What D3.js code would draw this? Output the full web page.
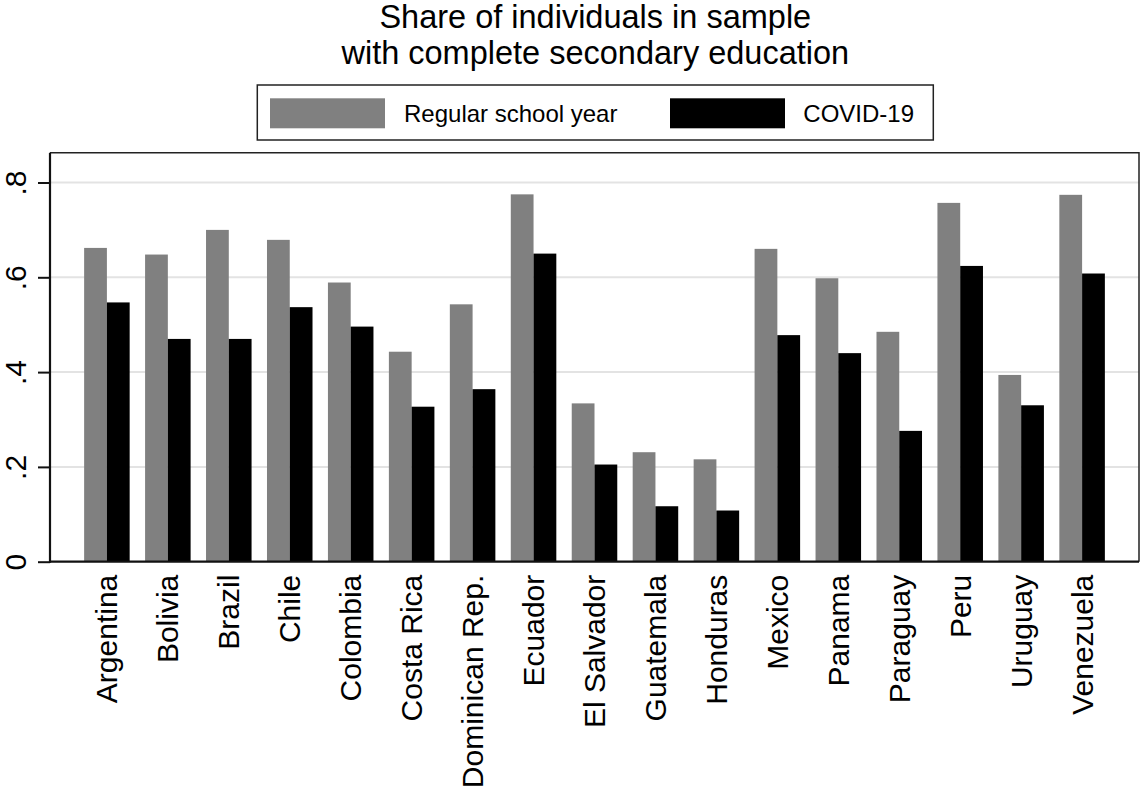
<!DOCTYPE html>
<html>
<head>
<meta charset="utf-8">
<script src="https://cdn.jsdelivr.net/npm/d3@7"></script>
<style>
  html, body { margin: 0; padding: 0; background: #fff; }
  svg { display: block; font-family: "Liberation Sans", Arial, sans-serif; }
</style>
</head>
<body>
<svg id="chart" width="1141" height="796"></svg>
<script>
const countries = ["Argentina","Bolivia","Brazil","Chile","Colombia","Costa Rica","Dominican Rep.","Ecuador","El Salvador","Guatemala","Honduras","Mexico","Panama","Paraguay","Peru","Uruguay","Venezuela"];
const regular = [0.662,0.648,0.700,0.679,0.589,0.443,0.543,0.775,0.334,0.231,0.216,0.660,0.598,0.485,0.757,0.394,0.774];
const covid   = [0.547,0.470,0.470,0.537,0.496,0.327,0.364,0.650,0.205,0.117,0.108,0.478,0.440,0.276,0.624,0.330,0.608];
const seriesNames = ["Regular school year","COVID-19"];
const seriesColors = ["#808080","#000000"];
const yTicks = [0, 0.2, 0.4, 0.6, 0.8];
const yTickLabels = ["0", ".2", ".4", ".6", ".8"];
const titleLines = ["Share of individuals in sample", "with complete secondary education"];

const svg = d3.select("#chart");
const plot = {left: 50, right: 1139, top: 152.7, bottom: 561.7};

const x = d3.scaleBand().domain(countries).range([plot.left, plot.right])
  .paddingInner(0.253).paddingOuter(0.56);
const xs = d3.scaleBand().domain([0,1]).range([0, x.bandwidth()]).padding(0);
const y = d3.scaleLinear().domain([0, 0.8]).range([plot.bottom, 182.5]);

// title
svg.append("g").selectAll("text").data(titleLines).join("text")
  .attr("x", 595.3).attr("y", (d,i) => 27.5 + i*36.5)
  .attr("text-anchor", "middle").attr("font-size", 32.5).attr("fill", "#000")
  .text(d => d);

// legend
const lg = svg.append("g");
lg.append("rect").attr("x", 257.3).attr("y", 85).attr("width", 676).attr("height", 55)
  .attr("fill", "#fff").attr("stroke", "#222").attr("stroke-width", 1.5);
const legendItems = [
  {sx: 270, tx: 404},
  {sx: 670, tx: 803.3}
];
seriesNames.forEach((name, i) => {
  lg.append("rect").attr("x", legendItems[i].sx).attr("y", 98.3).attr("width", 115).attr("height", 30)
    .attr("fill", seriesColors[i]);
  lg.append("text").attr("x", legendItems[i].tx).attr("y", 121.5)
    .attr("font-size", 24).attr("fill", "#000").text(name);
});

// gridlines
svg.append("g").selectAll("line").data(yTicks.filter(d => d > 0)).join("line")
  .attr("x1", plot.left).attr("x2", plot.right)
  .attr("y1", d => y(d)).attr("y2", d => y(d))
  .attr("stroke", "#e3e3e3").attr("stroke-width", 2);

// bars
const groups = svg.append("g").selectAll("g").data(countries).join("g")
  .attr("transform", d => `translate(${x(d)},0)`);
groups.selectAll("rect").data((d, i) => [regular[i], covid[i]]).join("rect")
  .attr("x", (d, j) => xs(j)).attr("width", xs.bandwidth())
  .attr("y", d => y(d)).attr("height", d => y(0) - y(d))
  .attr("fill", (d, j) => seriesColors[j]);

// frame top/right
svg.append("path")
  .attr("d", `M${plot.left},${plot.top}H${plot.right}V${plot.bottom}`)
  .attr("fill", "none").attr("stroke", "#222").attr("stroke-width", 1.5);

// y axis
const yAxis = svg.append("g").attr("transform", `translate(${plot.left},0)`)
  .call(d3.axisLeft(y).tickValues(yTicks).tickSize(12).tickSizeOuter(0).tickFormat((d,i) => yTickLabels[i]));
yAxis.select(".domain").remove();
yAxis.append("line").attr("x1", 0).attr("x2", 0).attr("y1", plot.top).attr("y2", plot.bottom + 1)
  .attr("stroke", "#111").attr("stroke-width", 2.2);
yAxis.selectAll(".tick line").attr("stroke", "#111").attr("stroke-width", 2);
yAxis.selectAll(".tick text")
  .attr("font-size", 30).attr("fill", "#000").attr("font-family", "Liberation Sans, Arial, sans-serif")
  .attr("text-anchor", "middle").attr("dy", 0).attr("x", null)
  .attr("transform", "translate(-24,0) rotate(-90)");

// x axis
const xAxis = svg.append("g").attr("transform", `translate(0,${plot.bottom})`)
  .call(d3.axisBottom(x).tickSize(0).tickSizeOuter(0));
xAxis.select(".domain").remove();
xAxis.append("line").attr("x1", plot.left - 1).attr("x2", plot.right)
  .attr("stroke", "#111").attr("stroke-width", 2.2);
xAxis.selectAll(".tick text")
  .attr("font-size", 30).attr("fill", "#000").attr("font-family", "Liberation Sans, Arial, sans-serif")
  .attr("text-anchor", "end").attr("y", 0).attr("dy", "0.35em")
  .attr("transform", "translate(0,13) rotate(-90)");
</script>
</body>
</html>
